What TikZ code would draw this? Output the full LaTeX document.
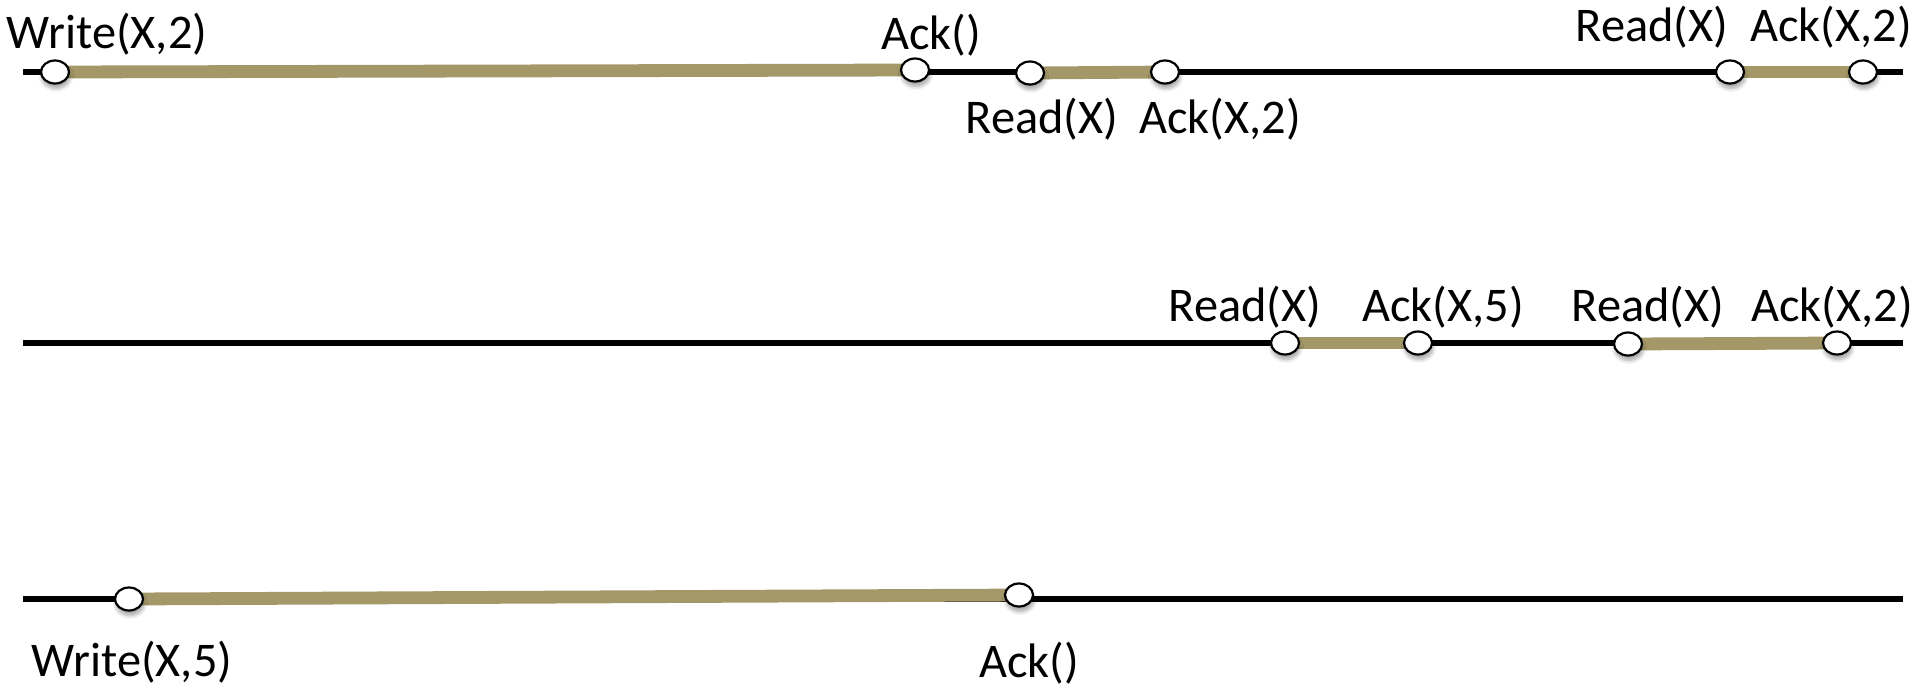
\documentclass[tikz,border=0pt]{standalone}
\usepackage{fontspec}
\setmainfont{Carlito}
\usetikzlibrary{shapes.geometric,shadows.blur,backgrounds}
\definecolor{barcol}{RGB}{164,152,104}
\tikzset{
  timeline/.style={line width=2.6pt, black},
  busy/.style={line width=6.4pt, barcol},
  event/.style={ellipse, draw=black, line width=1.1pt, fill=white,
    minimum width=14pt, minimum height=11.5pt, inner sep=0pt,
    blur shadow={shadow xshift=0.5pt, shadow yshift=-2.5pt,
      shadow blur steps=6, shadow opacity=35}},
  lbl/.style={inner sep=0pt, font=\fontsize{24.2}{28}\selectfont}
}
\begin{document}
\begin{tikzpicture}[x=0.5pt, y=-0.5pt]
\useasboundingbox (0,0) rectangle (1920,687);

% process 1
\coordinate (s1) at (23,72);
\coordinate (e1) at (1903,72);
\node[event] (w1) at (55,72) {};
\node[event] (a1) at (915,70) {};
\node[event] (r1) at (1030,73) {};
\node[event] (k1) at (1165,72) {};
\node[event] (r2) at (1730,72) {};
\node[event] (k2) at (1863,72) {};

% process 2
\coordinate (s2) at (23,343);
\coordinate (e2) at (1903,343);
\node[event] (r3) at (1285,343) {};
\node[event] (k3) at (1418,343) {};
\node[event] (r4) at (1628,344) {};
\node[event] (k4) at (1837,343) {};

% process 3
\coordinate (s3) at (23,599);
\coordinate (e3) at (1903,599);
\node[event] (w3) at (129,599) {};
\node[event] (a3) at (1019,595) {};

\begin{scope}[on background layer]
  \draw[timeline] (s1) -- (e1);
  \draw[timeline] (s2) -- (e2);
  \draw[timeline] (s3) -- (e3);
  \draw[busy] (w1.center) -- (a1.center);
  \draw[busy] (r1.center) -- (k1.center);
  \draw[busy] (r2.center) -- (k2.center);
  \draw[busy] (r3.center) -- (k3.center);
  \draw[busy] (r4.center) -- (k4.center);
  \draw[busy] (w3.center) -- (a3.center);
\end{scope}

% labels
\node[lbl] (tw1) at (107,34) {Write(X,2)};
\node[lbl] (ta1) at (931,35) {Ack()};
\node[lbl] (tr1) at (1042,119) {Read(X)};
\node[lbl] (tk1) at (1220,119) {Ack(X,2)};
\node[lbl] (tr2) at (1652,27) {Read(X)};
\node[lbl] (tk2) at (1831,27) {Ack(X,2)};

\node[lbl] (tr3) at (1245,307) {Read(X)};
\node[lbl] (tk3) at (1443,307) {Ack(X,5)};
\node[lbl] (tr4) at (1648,307) {Read(X)};
\node[lbl] (tk4) at (1832,307) {Ack(X,2)};

\node[lbl] (tw3) at (132,662) {Write(X,5)};
\node[lbl] (ta3) at (1029,663) {Ack()};
\end{tikzpicture}
\end{document}
